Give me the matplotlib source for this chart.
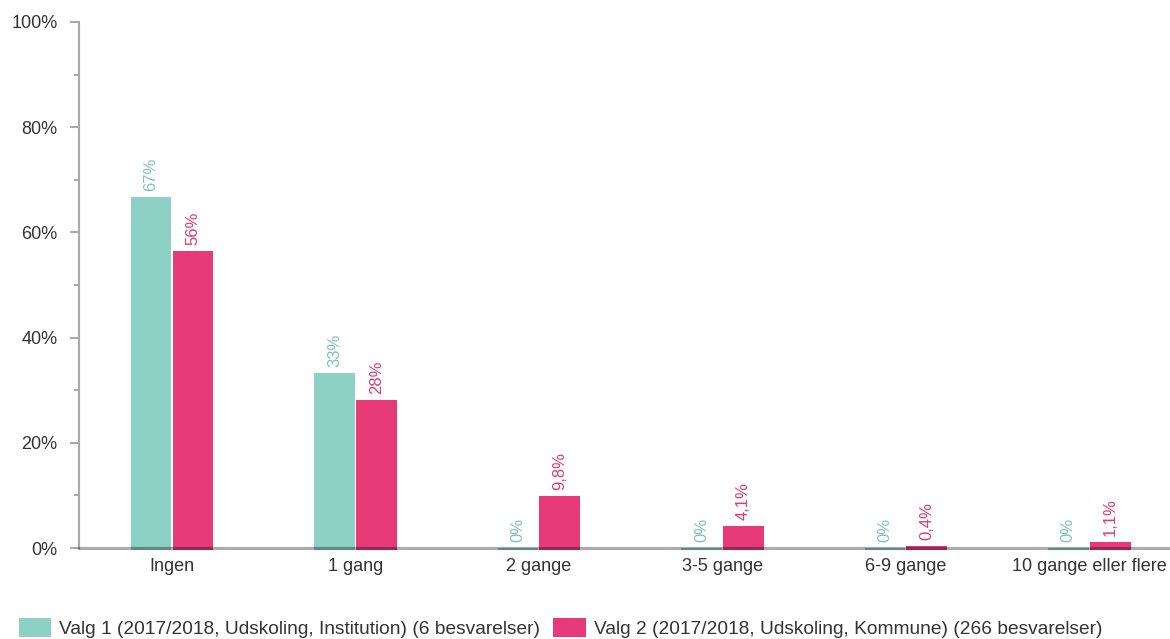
import numpy as np
import matplotlib.pyplot as plt
from matplotlib.ticker import MultipleLocator, FuncFormatter

plt.rcParams['font.family'] = ['Liberation Sans', 'DejaVu Sans']

# data
categories = ["Ingen", "1 gang", "2 gange", "3-5 gange", "6-9 gange", "10 gange eller flere"]
valg1 = [66.7, 33.3, 0, 0, 0, 0]
valg2 = [56.4, 28.2, 9.8, 4.1, 0.4, 1.1]
valg1_name = "Valg 1 (2017/2018, Udskoling, Institution) (6 besvarelser)"
valg2_name = "Valg 2 (2017/2018, Udskoling, Kommune) (266 besvarelser)"

teal = "#8cd1c4"
pink = "#e63a79"
teal_txt = "#80c4b6"
pink_txt = "#de3a73"


def fmt(v):
    if v == 0:
        return "0%"
    if v >= 10:
        return "{:.0f}%".format(v)
    return "{:.1f}%".format(v).replace(".", ",")


fig = plt.figure(figsize=(11.7, 6.39), dpi=100)
ax = fig.add_axes([0.0675, 0.1424, 0.9325, 0.8232])

x = np.arange(len(categories))
w = 0.222
off = 0.114
# bars start slightly below zero so they show under the baseline
ax.bar(x - off, np.array(valg1) + 0.3, w, bottom=-0.3, color=teal, label=valg1_name, clip_on=False, zorder=2)
ax.bar(x + off, np.array(valg2) + 0.3, w, bottom=-0.3, color=pink, label=valg2_name, clip_on=False, zorder=2)

for xi, v in zip(x - off, valg1):
    ax.annotate(fmt(v), (xi, v), xytext=(0, 6), textcoords='offset pixels',
                rotation=90, ha='center', va='bottom', fontsize=12, color=teal_txt)
for xi, v in zip(x + off, valg2):
    ax.annotate(fmt(v), (xi, v), xytext=(0, 6), textcoords='offset pixels',
                rotation=90, ha='center', va='bottom', fontsize=12, color=pink_txt)

# semi transparent baseline over the bars
ax.axhline(0, color='black', alpha=0.33, lw=2.3, zorder=3, clip_on=False)

ax.set_xlim(-0.507, 5.44)
ax.set_ylim(0, 100)
ax.set_xticks(x)
ax.set_xticklabels(categories)
ax.yaxis.set_major_locator(MultipleLocator(20))
ax.yaxis.set_minor_locator(MultipleLocator(10))
ax.yaxis.set_major_formatter(FuncFormatter(lambda v, p: "{:.0f}%".format(v)))

for s in ['top', 'right', 'bottom']:
    ax.spines[s].set_visible(False)
ax.spines['left'].set_color('#aaaaaa')
ax.spines['left'].set_linewidth(1.5)

ax.tick_params(axis='y', which='major', length=6.5, width=1.5, color='#aaaaaa',
               labelsize=13, labelcolor='#333333', pad=9)
ax.tick_params(axis='y', which='minor', length=3.5, width=1.5, color='#aaaaaa')
ax.tick_params(axis='x', length=0, labelsize=13, labelcolor='#333333', pad=7)

fig.legend(loc='lower left', bbox_to_anchor=(0.010, -0.011), ncol=2, frameon=False,
           fontsize=13.75, handlelength=1.68, handleheight=1.15, handletextpad=0.42,
           columnspacing=0.68, labelcolor='#333333', borderaxespad=0)

plt.savefig("out.png", dpi=100)
